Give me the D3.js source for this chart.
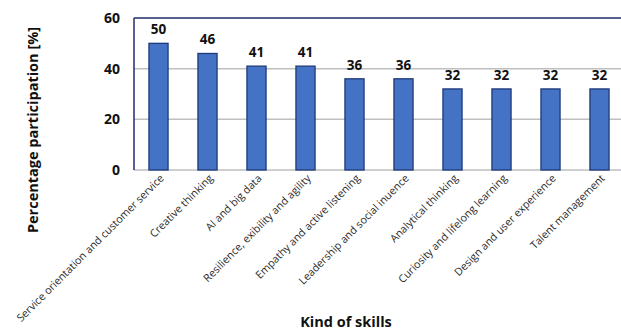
<!DOCTYPE html>
<html><head><meta charset="utf-8">
<script src="https://cdn.jsdelivr.net/npm/d3@7"></script>
<style>
body{margin:0;background:#fff;}
text{font-family:"Open Sans","Noto Sans",sans-serif;}
</style></head>
<body>
<svg id="chart" width="621" height="334"></svg>
<script>
const skills = ["Service orientation and customer service","Creative thinking","AI and big data","Resilience, exibility and agility","Empathy and active listening","Leadership and social inuence","Analytical thinking","Curiosity and lifelong learning","Design and user experience","Talent management"];
const participation = [50,46,41,41,36,36,32,32,32,32];
const yTicks = [0,20,40,60];

const svg = d3.select("#chart");
const plot = {left: 134, right: 624, top: 18, bottom: 170};

const x = d3.scaleBand().domain(skills).range([plot.left, plot.right]).paddingInner(0.61).paddingOuter(0.305);
const y = d3.scaleLinear().domain([0,60]).range([plot.bottom, plot.top]);

// gridlines
svg.append("g").selectAll("line").data(yTicks.filter(d=>d<60)).join("line")
  .attr("x1", plot.left).attr("x2", plot.right).attr("y1", d=>y(d)).attr("y2", d=>y(d))
  .attr("stroke", "#bfbfbf").attr("stroke-width", 1.5);

// frame top and left
svg.append("line").attr("x1", plot.left).attr("x2", plot.right).attr("y1", plot.top).attr("y2", plot.top)
  .attr("stroke", "#1f2d6b").attr("stroke-width", 1.5);
svg.append("line").attr("x1", plot.left).attr("x2", plot.left).attr("y1", plot.top).attr("y2", plot.bottom)
  .attr("stroke", "#1f2d6b").attr("stroke-width", 1.5);

// y axis tick labels
const yAxis = d3.axisLeft(y).tickValues(yTicks).tickSize(0).tickPadding(14);
const ga = svg.append("g").attr("transform", `translate(${plot.left},0)`).call(yAxis);
ga.select(".domain").remove();
ga.selectAll("text").attr("font-size", 14).attr("font-weight", "bold").attr("fill", "#111")
  .style("font-family", "'Open Sans','Noto Sans',sans-serif");

// bars
svg.append("g").selectAll("rect").data(participation).join("rect")
  .attr("x", (d,i)=>x(skills[i])).attr("width", x.bandwidth())
  .attr("y", d=>y(d)).attr("height", d=>y(0)-y(d))
  .attr("fill", "#4472c4").attr("stroke", "#1f3a7a").attr("stroke-width", 1.3);

// value labels
svg.append("g").selectAll("text").data(participation).join("text")
  .attr("x", (d,i)=>x(skills[i]) + x.bandwidth()/2).attr("y", d=>y(d) - 9)
  .attr("text-anchor", "middle").attr("font-size", 13.5).attr("font-weight", "bold").attr("fill", "#111")
  .text(d=>d);

// category labels
const xAxis = d3.axisBottom(x).tickSize(0).tickPadding(0);
const gx = svg.append("g").attr("transform", `translate(0,${plot.bottom})`).call(xAxis);
gx.select(".domain").remove();
gx.selectAll("text")
  .attr("font-size", 10.7).attr("fill", "#2a2a2a")
  .style("font-family", "'Open Sans','Noto Sans',sans-serif")
  .attr("text-anchor", "end").attr("dy", 0).attr("y", 0)
  .attr("transform", "translate(6,9) rotate(-45)");

// axis titles
svg.append("text").attr("transform", "translate(38,130) rotate(-90)")
  .attr("text-anchor", "middle").attr("font-size", 14.5).attr("font-weight", "bold").attr("fill", "#111")
  .text("Percentage participation  [%]");
svg.append("text").attr("x", 346).attr("y", 327)
  .attr("text-anchor", "middle").attr("font-size", 14.5).attr("font-weight", "bold").attr("fill", "#111")
  .text("Kind of skills");
</script>
</body></html>
